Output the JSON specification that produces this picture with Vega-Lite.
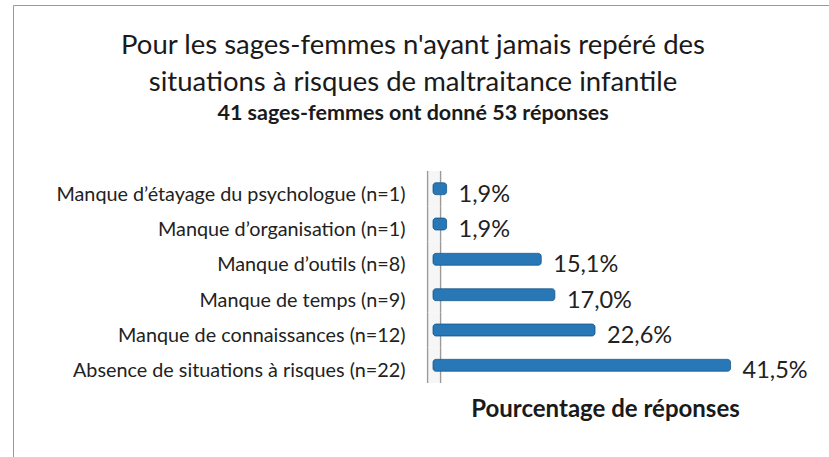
{
  "$schema": "https://vega.github.io/schema/vega-lite/v6.json",
  "width": 900,
  "height": 500,
  "autosize": {"type": "none"},
  "padding": {"left": 13, "top": 5, "right": -84, "bottom": -48},
  "background": "white",
  "config": {
    "view": {"stroke": "#9a9a9a", "strokeWidth": 1},
    "font": "Lato",
    "locale": {
      "number": {"decimal": ",", "thousands": " ", "grouping": [3], "currency": ["", " €"], "percent": "%"}
    }
  },
  "title": {
    "text": ["Pour les sages-femmes n'ayant jamais repéré des", "situations à risques de maltraitance infantile"],
    "subtitle": "41 sages-femmes ont donné 53 réponses",
    "orient": "top",
    "anchor": "start",
    "frame": "group",
    "offset": -119,
    "dx": 400,
    "align": "center",
    "font": "Lato",
    "fontSize": 27.5,
    "fontWeight": "normal",
    "color": "#1a1a1a",
    "lineHeight": 37,
    "subtitleFont": "Lato",
    "subtitleFontSize": 21.5,
    "subtitleFontWeight": "bold",
    "subtitleColor": "#1a1a1a",
    "subtitlePadding": 6
  },
  "data": {
    "values": [
      {"cat": "Manque d’étayage du psychologue (n=1)", "pct": 0.019},
      {"cat": "Manque d’organisation (n=1)", "pct": 0.019},
      {"cat": "Manque d’outils (n=8)", "pct": 0.151},
      {"cat": "Manque de temps (n=9)", "pct": 0.170},
      {"cat": "Manque de connaissances (n=12)", "pct": 0.226},
      {"cat": "Absence de situations à risques (n=22)", "pct": 0.415}
    ]
  },
  "encoding": {
    "y": {
      "field": "cat",
      "type": "nominal",
      "sort": null,
      "scale": {"range": [166, 378], "paddingInner": 0, "paddingOuter": 0},
      "axis": {
        "title": null,
        "domain": false,
        "ticks": false,
        "grid": false,
        "offset": -420,
        "labelPadding": 28,
        "labelFont": "Lato",
        "labelFontSize": 19.8,
        "labelColor": "#222222",
        "labelOffset": 6,
        "labelLimit": 420
      }
    }
  },
  "layer": [
    {
      "mark": {"type": "rect", "fill": "#f6f6f6", "clip": false},
      "encoding": {
        "x": {
          "datum": -0.0085,
          "type": "quantitative",
          "scale": {"domain": [0, 0.53], "range": [420, 800]},
          "axis": {"orient": "bottom", "offset": -110, "domain": false, "ticks": false, "labels": false, "grid": false, "title": "Pourcentage de réponses", "titleFont": "Lato", "titleFontSize": 24, "titleFontWeight": "bold", "titleColor": "#1a1a1a", "titlePadding": 2, "titleX": 592}
        },
        "x2": {"datum": 0.0115}
      }
    },
    {
      "mark": {"type": "rect", "fill": "#9a9a9a", "clip": false},
      "encoding": {
        "x": {
          "datum": -0.0085,
          "type": "quantitative",
          "scale": {"domain": [0, 0.53], "range": [420, 800]},
          "axis": {"orient": "bottom", "offset": -110, "domain": false, "ticks": false, "labels": false, "grid": false, "title": "Pourcentage de réponses", "titleFont": "Lato", "titleFontSize": 24, "titleFontWeight": "bold", "titleColor": "#1a1a1a", "titlePadding": 2, "titleX": 592}
        },
        "x2": {"datum": -0.0066}
      }
    },
    {
      "mark": {"type": "rect", "fill": "#9a9a9a", "clip": false},
      "encoding": {
        "x": {
          "datum": 0.0096,
          "type": "quantitative",
          "scale": {"domain": [0, 0.53], "range": [420, 800]},
          "axis": {"orient": "bottom", "offset": -110, "domain": false, "ticks": false, "labels": false, "grid": false, "title": "Pourcentage de réponses", "titleFont": "Lato", "titleFontSize": 24, "titleFontWeight": "bold", "titleColor": "#1a1a1a", "titlePadding": 2, "titleX": 592}
        },
        "x2": {"datum": 0.0115}
      }
    },
    {
      "mark": {"type": "bar", "height": 12, "cornerRadius": 3, "fill": "#2878b8", "stroke": "#1c5d92", "strokeWidth": 0.8},
      "encoding": {
        "x": {
          "field": "pct",
          "type": "quantitative",
          "scale": {"domain": [0, 0.53], "range": [420, 800]},
          "axis": {"orient": "bottom", "offset": -110, "domain": false, "ticks": false, "labels": false, "grid": false, "title": "Pourcentage de réponses", "titleFont": "Lato", "titleFontSize": 24, "titleFontWeight": "bold", "titleColor": "#1a1a1a", "titlePadding": 2, "titleX": 592}
        }
      }
    },
    {
      "mark": {"type": "text", "align": "left", "baseline": "middle", "dx": 12, "dy": 6, "fontSize": 23.5, "color": "#222222", "font": "Lato"},
      "encoding": {
        "x": {
          "field": "pct",
          "type": "quantitative",
          "scale": {"domain": [0, 0.53], "range": [420, 800]},
          "axis": {"orient": "bottom", "offset": -110, "domain": false, "ticks": false, "labels": false, "grid": false, "title": "Pourcentage de réponses", "titleFont": "Lato", "titleFontSize": 24, "titleFontWeight": "bold", "titleColor": "#1a1a1a", "titlePadding": 2, "titleX": 592}
        },
        "text": {"field": "pct", "type": "quantitative", "format": ".1%"}
      }
    }
  ]
}
